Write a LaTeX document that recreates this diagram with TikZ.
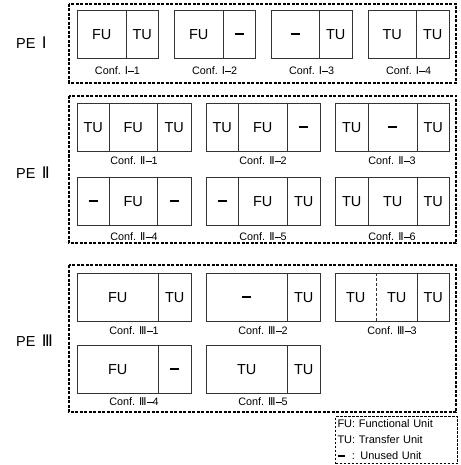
\documentclass[tikz,border=0pt]{standalone}
\usepackage{fontspec}
\setmainfont{Liberation Sans}
\newfontfamily\numfont{DejaVu Sans}
\newcommand{\rn}[1]{{\numfont #1}}
\newcommand{\nbar}{\rule{9pt}{2.2pt}}
\newcommand{\cdash}{\rule[2.6pt]{6pt}{1.3pt}}
\tikzset{
  cell/.style={inner sep=0pt, minimum height=48pt, font=\fontsize{14.5}{16}\selectfont},
  unitline/.style={line width=0.8pt, draw=black!80},
  grp/.style={line width=1.3pt, dash pattern=on 3pt off 1.5pt},
  conflabel/.style={font=\fontsize{10.8}{12}\selectfont, inner sep=0pt},
  pelabel/.style={font=\fontsize{14.5}{16}\selectfont, anchor=west, inner sep=0pt},
  legendbox/.style={draw, line width=1pt, dash pattern=on 2.5pt off 1.5pt, align=left,
    font=\fontsize{11}{16}\selectfont, inner sep=1.5pt, anchor=north west,
    minimum width=122pt, minimum height=47pt, text width=118pt}
}
\newcommand{\cellat}[5]{\node[cell, minimum width=#4pt, anchor=north west] (#1) at (#2,#3) {#5};}
\newcommand{\frameof}[2]{\draw[unitline] (#1.north west) rectangle (#2.south east);}
\newcommand{\divafter}[1]{\draw[unitline] (#1.north east) -- (#1.south east);}
\begin{document}
\begin{tikzpicture}[x=1pt,y=-1pt]
\useasboundingbox (0,0) rectangle (460,465);

% group frames
\draw[grp] (69,4) rectangle (456,83);
\draw[grp] (69,96) rectangle (456,243);
\draw[grp] (69,265) rectangle (456,412);

% PE labels
\node[pelabel] (pe1) at (16,43) {PE\ \,{\fontsize{16}{16}\selectfont\rn{Ⅰ}}};
\node[pelabel] (pe2) at (16,173) {PE\ \,{\fontsize{16}{16}\selectfont\rn{Ⅱ}}};
\node[pelabel] (pe3) at (16,341) {PE\ \,{\fontsize{16}{16}\selectfont\rn{Ⅲ}}};

% ---------- PE I ----------
\cellat{a11}{77}{10}{49}{FU}  \cellat{a12}{126}{10}{32}{TU}
\frameof{a11}{a12} \divafter{a11}
\cellat{a21}{174}{10}{49}{FU} \cellat{a22}{223}{10}{32}{\nbar}
\frameof{a21}{a22} \divafter{a21}
\cellat{a31}{271}{10}{48}{\nbar}  \cellat{a32}{319}{10}{33}{TU}
\frameof{a31}{a32} \divafter{a31}
\cellat{a41}{368}{10}{48}{TU} \cellat{a42}{416}{10}{33}{TU}
\frameof{a41}{a42} \divafter{a41}
\node[conflabel] (la1) at (117.5,71) {Conf. \rn{Ⅰ}\cdash1};
\node[conflabel] (la2) at (214.5,71) {Conf. \rn{Ⅰ}\cdash2};
\node[conflabel] (la3) at (311.5,71) {Conf. \rn{Ⅰ}\cdash3};
\node[conflabel] (la4) at (408.5,71) {Conf. \rn{Ⅰ}\cdash4};

% ---------- PE II ----------
% row 1
\cellat{b11}{77}{103}{32}{TU} \cellat{b12}{109}{103}{48}{FU} \cellat{b13}{157}{103}{34}{TU}
\frameof{b11}{b13} \divafter{b11} \divafter{b12}
\cellat{b21}{206}{103}{32}{TU} \cellat{b22}{238}{103}{49}{FU} \cellat{b23}{287}{103}{33}{\nbar}
\frameof{b21}{b23} \divafter{b21} \divafter{b22}
\cellat{b31}{335}{103}{33}{TU} \cellat{b32}{368}{103}{49}{\nbar} \cellat{b33}{417}{103}{32}{TU}
\frameof{b31}{b33} \divafter{b31} \divafter{b32}
\node[conflabel] (lb1) at (134,161) {Conf. \rn{Ⅱ}\cdash1};
\node[conflabel] (lb2) at (263,161) {Conf. \rn{Ⅱ}\cdash2};
\node[conflabel] (lb3) at (392,161) {Conf. \rn{Ⅱ}\cdash3};
% row 2
\cellat{b41}{77}{177}{32}{\nbar} \cellat{b42}{109}{177}{48}{FU} \cellat{b43}{157}{177}{34}{\nbar}
\frameof{b41}{b43} \divafter{b41} \divafter{b42}
\cellat{b51}{206}{177}{32}{\nbar} \cellat{b52}{238}{177}{49}{FU} \cellat{b53}{287}{177}{33}{TU}
\frameof{b51}{b53} \divafter{b51} \divafter{b52}
\cellat{b61}{335}{177}{33}{TU} \cellat{b62}{368}{177}{49}{TU} \cellat{b63}{417}{177}{32}{TU}
\frameof{b61}{b63} \divafter{b61} \divafter{b62}
\node[conflabel] (lb4) at (134,237) {Conf. \rn{Ⅱ}\cdash4};
\node[conflabel] (lb5) at (263,237) {Conf. \rn{Ⅱ}\cdash5};
\node[conflabel] (lb6) at (392,237) {Conf. \rn{Ⅱ}\cdash6};

% ---------- PE III ----------
% row 1
\cellat{c11}{77}{273}{81}{FU} \cellat{c12}{158}{273}{33}{TU}
\frameof{c11}{c12} \divafter{c11}
\cellat{c21}{206}{273}{81}{\nbar} \cellat{c22}{287}{273}{33}{TU}
\frameof{c21}{c22} \divafter{c21}
\cellat{c31}{335}{273}{41}{TU} \cellat{c32}{376}{273}{41}{TU} \cellat{c33}{417}{273}{32}{TU}
\frameof{c31}{c33}
\draw[unitline, line width=1pt, dash pattern=on 3pt off 2pt] (c31.north east) -- (c31.south east);
\divafter{c32}
\node[conflabel] (lc1) at (134,331) {Conf. \rn{Ⅲ}\cdash1};
\node[conflabel] (lc2) at (263,331) {Conf. \rn{Ⅲ}\cdash2};
\node[conflabel] (lc3) at (392,331) {Conf. \rn{Ⅲ}\cdash3};
% row 2
\cellat{c41}{77}{345}{81}{FU} \cellat{c42}{158}{345}{33}{\nbar}
\frameof{c41}{c42} \divafter{c41}
\cellat{c51}{206}{345}{81}{TU} \cellat{c52}{287}{345}{33}{TU}
\frameof{c51}{c52} \divafter{c51}
\node[conflabel] (lc4) at (134,402) {Conf. \rn{Ⅲ}\cdash4};
\node[conflabel] (lc5) at (263,402) {Conf. \rn{Ⅲ}\cdash5};

% legend
\node[legendbox] (legend) at (335,416) {FU: Functional Unit\\TU: Transfer Unit\\\rule[3pt]{7pt}{1.6pt}\ \ : Unused Unit};
\end{tikzpicture}
\end{document}
